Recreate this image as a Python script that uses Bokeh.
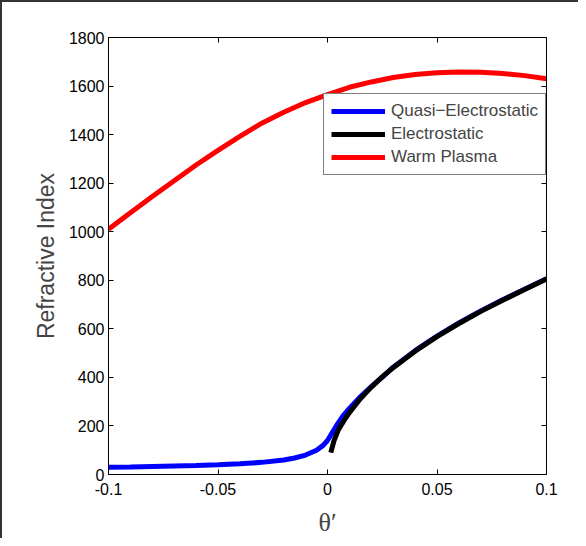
from bokeh.plotting import figure
from bokeh.models import LinearAxis, Legend, LegendItem, Range1d, FixedTicker
from bokeh.embed import file_html
from bokeh.resources import INLINE

# ---- data ----
theta_warm = [-0.1, -0.09, -0.08, -0.07, -0.06, -0.05, -0.04, -0.03, -0.02, -0.01,
              0.0, 0.01, 0.02, 0.03, 0.04, 0.05, 0.06, 0.07, 0.08, 0.09, 0.1]
n_warm = [1010, 1078, 1145, 1210, 1275, 1335, 1393, 1447, 1492, 1532,
          1565, 1595, 1617, 1635, 1648, 1655, 1658, 1657, 1652, 1643, 1630]

theta_quasi = [-0.1, -0.09, -0.08, -0.07, -0.06, -0.05, -0.04, -0.03, -0.02, -0.015,
               -0.01, -0.005, -0.002, 0.0, 0.002, 0.004, 0.007, 0.01, 0.015, 0.02,
               0.025, 0.03, 0.04, 0.05, 0.06, 0.07, 0.08, 0.09, 0.1]
n_quasi = [30, 31, 33, 35, 37, 40, 44, 50, 60, 68,
           80, 100, 120, 140, 170, 200, 240, 272, 320, 362,
           401, 442, 510, 570, 624, 674, 720, 763, 806]

theta_es = [0.0015, 0.003, 0.005, 0.0075, 0.01, 0.015, 0.02, 0.025, 0.03, 0.04,
            0.05, 0.06, 0.07, 0.08, 0.09, 0.1]
n_es = [90, 140, 185, 222, 255, 312, 360, 402, 440, 508,
        568, 622, 672, 718, 762, 805]

x_ticks = [-0.1, -0.05, 0, 0.05, 0.1]
x_tick_labels = ["-0.1", "-0.05", "0", "0.05", "0.1"]
y_ticks = [0, 200, 400, 600, 800, 1000, 1200, 1400, 1600, 1800]

series_names = ["Quasi\u2212Electrostatic", "Electrostatic", "Warm Plasma"]

FONT = "Liberation Sans"

p = figure(width=578, height=538, output_backend="svg", toolbar_location=None,
           x_range=Range1d(-0.1, 0.1), y_range=Range1d(0, 1800),
           min_border_left=106, min_border_right=34,
           min_border_top=35, min_border_bottom=66)
p.styles = {"border-left": "2px solid #333333", "border-top": "2px solid #333333"}

p.xgrid.visible = False
p.ygrid.visible = False
p.outline_line_color = "black"
p.outline_line_width = 1
p.outline_line_alpha = 1

def style_axis(ax, ticks, overrides=None, show_labels=True):
    ax.ticker = FixedTicker(ticks=ticks)
    ax.major_tick_in = 5
    ax.major_tick_out = 0
    ax.minor_tick_line_color = None
    ax.axis_line_color = "black"
    ax.major_tick_line_color = "black"
    ax.major_label_text_font = FONT
    ax.major_label_text_color = "black"
    ax.major_label_text_font_size = "16px"
    if show_labels:
        if overrides:
            ax.major_label_overrides = overrides
        ax.major_label_standoff = 5
    else:
        ax.major_label_overrides = {t: "" for t in ticks}
        ax.major_label_standoff = 0

style_axis(p.xaxis[0], x_ticks, {t: l for t, l in zip(x_ticks, x_tick_labels)})
style_axis(p.yaxis[0], y_ticks)
p.xaxis[0].major_label_standoff = 8
p.yaxis[0].major_label_standoff = 4

p.xaxis[0].axis_label = "\u03b8\u2032"
p.xaxis[0].axis_label_text_font = "Liberation Serif"
p.xaxis[0].axis_label_text_font_size = "26px"
p.xaxis[0].axis_label_text_font_style = "normal"
p.xaxis[0].axis_label_standoff = 10

p.yaxis[0].axis_label = "Refractive Index"
p.yaxis[0].axis_label_text_font = FONT
p.yaxis[0].axis_label_text_font_size = "23px"
p.yaxis[0].axis_label_text_font_style = "normal"
p.yaxis[0].axis_label_standoff = 7

right_ax = LinearAxis()
style_axis(right_ax, y_ticks, show_labels=False)
p.add_layout(right_ax, "right")
top_ax = LinearAxis()
style_axis(top_ax, x_ticks, show_labels=False)
p.add_layout(top_ax, "above")

r_quasi = p.line(theta_quasi, n_quasi, line_color="#0000FF", line_width=5)
r_es = p.line(theta_es, n_es, line_color="black", line_width=5)
r_warm = p.line(theta_warm, n_warm, line_color="#FF0000", line_width=5)

legend = Legend(items=[LegendItem(label=series_names[0], renderers=[r_quasi]),
                       LegendItem(label=series_names[1], renderers=[r_es]),
                       LegendItem(label=series_names[2], renderers=[r_warm])],
                location=(215, 299), padding=7, spacing=3, margin=0,
                glyph_width=54, glyph_height=18, label_height=18, label_standoff=6,
                label_text_font=FONT, label_text_font_size="17px",
                border_line_color="black", border_line_width=1,
                background_fill_color="white", background_fill_alpha=1)
p.add_layout(legend)

open("out.html", "w").write(file_html(p, INLINE))
